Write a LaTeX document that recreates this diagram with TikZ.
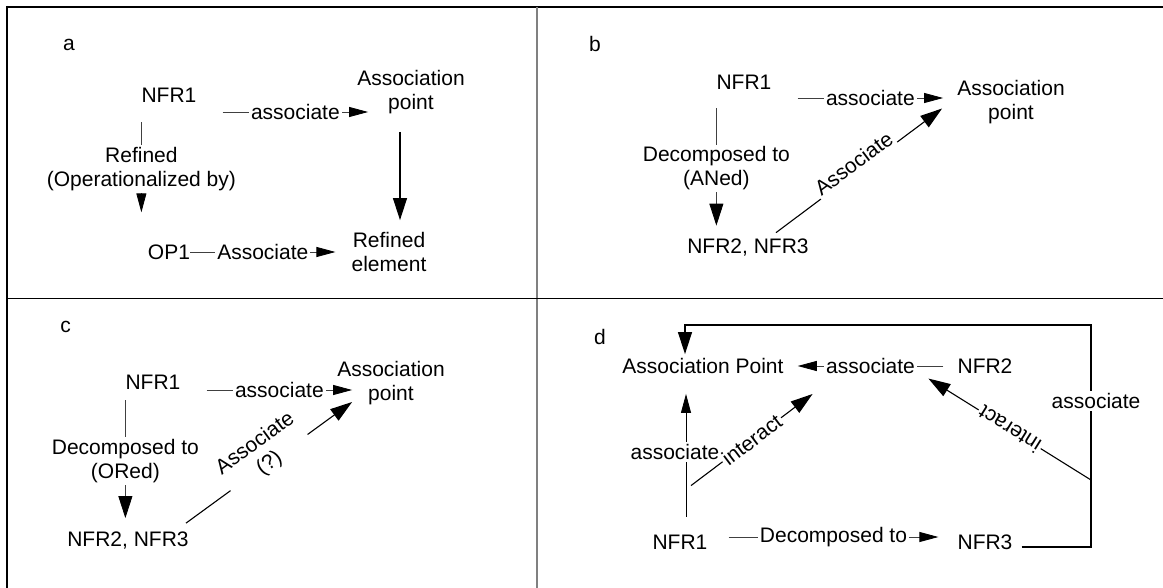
\documentclass[tikz,border=0pt]{standalone}
\usepackage{fontspec}
\setmainfont{Liberation Sans}
\usetikzlibrary{arrows.meta}

\begin{document}
\begin{tikzpicture}[
  x=1pt, y=-1pt,
  txt/.style={font=\fontsize{21}{24}\selectfont, align=center, inner sep=0pt},
  lbl/.style={txt, fill=white, inner sep=2pt},
  smalltip/.style={-{Triangle[length=19pt, width=10pt, color=black]}},
  bigtip/.style={-{Triangle[length=22pt, width=14pt, color=black]}},
  link/.style={draw=black!75, line width=0.8pt, smalltip},
  strong/.style={draw=black, line width=1.1pt, bigtip}
]
  \useasboundingbox (0,0) rectangle (1163,588);

  % frame and quadrants
  \draw[line width=2.2pt] (6,7) -- (1163,7);
  \draw[line width=2.2pt] (7,6) -- (7,588);
  \draw[black!50, line width=1.8pt] (537,7) -- (537,588);
  \draw[line width=1pt] (7,299) -- (1163,299);

  % a
  \node[txt] (a-tag)  at (69,45)    {a};
  \node[txt] (a-nfr1) at (169,95)   {NFR1};
  \node[txt] (a-ap)   at (411,92)   {Association\\point};
  \node[txt] (a-op1)  at (169,252)  {OP1};
  \node[txt] (a-re)   at (389,252)  {Refined\\element};

  \draw[link] ([shift={(26,17)}]a-nfr1.east) -- node[lbl] {associate} ([shift={(11,20)}]a-ap.west);
  \draw[link, shorten <=20pt, shorten >=32pt] (a-nfr1.south west)
    -- node[lbl, pos=0.47] {Refined\\(Operationalized by)} (a-nfr1.south west |- a-op1.north);
  \draw[strong, shorten <=18pt, shorten >=12pt] ([xshift=-11pt]a-ap.south) -- ([xshift=11pt]a-re.north);
  \draw[link] (a-op1.east) -- node[lbl] {Associate} ([xshift=-16pt]a-re.west);

  % b
  \node[txt] (b-tag)   at (595,44)    {b};
  \node[txt] (b-nfr1)  at (744,82)    {NFR1};
  \node[txt] (b-ap)    at (1011,102.5) {Association\\point};
  \node[txt] (b-nfr23) at (748,247.5) {NFR2, NFR3};

  \draw[link] ([shift={(26,16)}]b-nfr1.east) -- node[lbl] {associate} ([shift={(-14,-4.5)}]b-ap.west);
  \draw[link, bigtip, shorten <=19pt, shorten >=13pt] (b-nfr1.south west)
    -- node[lbl, pos=0.53] {Decomposed to\\(ANed)} (b-nfr1.south west |- b-nfr23.north);
  \draw[strong] ([shift={(28,-6)}]b-nfr23.north)
    -- node[lbl, sloped, yshift=9pt, inner ysep=5pt] {Associate} ([shift={(-15,6)}]b-ap.west);

  % c
  \node[txt] (c-tag)   at (65.5,327) {c};
  \node[txt] (c-nfr1)  at (153,382)  {NFR1};
  \node[txt] (c-ap)    at (391,383)  {Association\\point};
  \node[txt] (c-nfr23) at (128,541)  {NFR2, NFR3};

  \draw[link] ([shift={(26,8)}]c-nfr1.east) -- node[lbl] {associate} ([shift={(15,7)}]c-ap.west);
  \draw[link, bigtip, shorten <=11pt, shorten >=14pt] (c-nfr1.south west)
    -- node[lbl, pos=0.5] {Decomposed to\\(ORed)} (c-nfr1.south west |- c-nfr23.north);
  \draw[strong] ([shift={(58,-9)}]c-nfr23.north)
    -- node[lbl, sloped, yshift=11pt] {Associate\\(?)} ([shift={(15,19)}]c-ap.west);

  % d
  \node[txt] (d-tag)  at (600,336.5) {d};
  \node[txt] (d-ap)   at (703,366)   {Association Point};
  \node[txt] (d-nfr2) at (985,366)   {NFR2};
  \node[txt] (d-nfr1) at (680,542)   {NFR1};
  \node[txt] (d-nfr3) at (985,542)   {NFR3};
  \coordinate (d-corner) at (1091,325);

  \draw[link] ([xshift=-14pt]d-nfr2.west) -- node[lbl] (d-assoc) {associate} ([xshift=14pt]d-ap.east);
  \draw[link] ([shift={(21,-5)}]d-nfr1.east) -- node[lbl] {Decomposed to} ([shift={(-19,-5)}]d-nfr3.west);
  \draw[link, draw=black, shorten <=18pt, shorten >=20pt] ([xshift=6pt]d-nfr1.north)
    -- node[lbl, pos=0.515, xshift=-11pt] {associate} ([xshift=-17pt]d-ap.south);
  \draw[strong] ([shift={(11,-49)}]d-nfr1.north)
    -- node[lbl, sloped] {interact} ([shift={(-58,28)}]d-assoc.center);
  \draw[strong, shorten >=4pt] ([shift={(9,5)}]d-nfr3.east) -| (d-corner) -| ([xshift=-18pt]d-ap.north);
  \draw[strong] ([yshift=-155pt]d-corner)
    -- node[lbl, sloped, allow upside down] {interact} ([shift={(-29,5)}]d-nfr2.south west);
  \node[lbl] (d-loop) at (1096,401) {associate};
\end{tikzpicture}
\end{document}
